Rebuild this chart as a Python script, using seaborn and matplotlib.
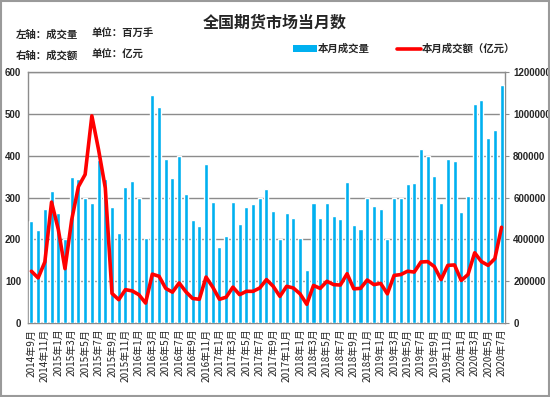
import numpy as np
import pandas as pd
import matplotlib
matplotlib.use("Agg")
import matplotlib.pyplot as plt
import seaborn as sns
from matplotlib.patches import Patch, Rectangle
from matplotlib.lines import Line2D

# monthly data, 2014-09 .. 2020-07
months = [p.strftime("%Y") + "年" + str(p.month) + "月"
          for p in pd.period_range("2014-09", "2020-07", freq="M")]

# volume, million lots (left axis)
volume = [243, 223, 273, 316, 263, 200, 350, 344, 300, 286, 390, 344,
          277, 215, 325, 339, 300, 204, 545, 515, 391, 346, 400, 308,
          247, 231, 380, 289, 183, 208, 290, 237, 277, 285, 298, 320,
          267, 200, 262, 252, 204, 126, 286, 251, 287, 255, 249, 337,
          234, 225, 299, 279, 273, 200, 299, 299, 333, 335, 417, 400,
          351, 288, 391, 387, 265, 304, 523, 534, 442, 460, 568]

# turnover, 100 million yuan (right axis)
turnover = [248000, 216000, 292000, 578000, 448000, 260000, 494000, 652000,
            710000, 990000, 828000, 646000, 142000, 112000, 160000, 154000,
            136000, 96000, 234000, 224000, 166000, 148000, 192000, 150000,
            118000, 114000, 220000, 172000, 114000, 124000, 172000, 136000,
            152000, 152000, 168000, 208000, 176000, 128000, 176000, 168000,
            140000, 90000, 180000, 166000, 200000, 184000, 182000, 236000,
            164000, 166000, 206000, 184000, 190000, 140000, 228000, 232000,
            248000, 244000, 292000, 294000, 270000, 208000, 276000, 278000,
            204000, 232000, 336000, 294000, 276000, 308000, 458000]

left_ticks = [0, 100, 200, 300, 400, 500, 600]
right_ticks = [0, 200000, 400000, 600000, 800000, 1000000, 1200000]

BLUE = "#00B0F0"
RED = "#FF0000"
GRID = "#8c8c8c"

sns.set_style("white")
plt.rcParams["font.family"] = ["Noto Sans CJK SC", "DejaVu Sans"]

fig = plt.figure(figsize=(5.5, 3.97), dpi=100)
ax = fig.add_axes([0.051, 0.186, 0.867, 0.633])

sns.barplot(x=months, y=volume, color=BLUE, saturation=1, width=0.6, ax=ax, zorder=3)
ax.set_xlim(-0.5, len(months) - 0.5)
ax.set_ylim(0, 600)
ax.set_yticks(left_ticks)
ax.set_yticklabels([str(t) for t in left_ticks], fontsize=7, fontweight="bold",
                   family=["Liberation Sans", "DejaVu Sans"])
ax.set_xticks(range(0, len(months), 2))
ax.set_xticklabels(months[::2], rotation=90, fontsize=7.2)
ax.tick_params(axis="y", length=0, pad=5)
ax.tick_params(axis="x", length=0, pad=4)
ax.yaxis.grid(True, color=GRID, lw=1, zorder=0)
ax.set_axisbelow(True)
ax.set_xlabel("")
ax.set_ylabel("")
for s in ["left", "right", "top", "bottom"]:
    ax.spines[s].set_color(GRID)
    ax.spines[s].set_linewidth(1)

ax2 = ax.twinx()
sns.lineplot(x=np.arange(len(months)), y=turnover, color=RED, lw=2.6, ax=ax2)
ax2.set_ylim(0, 1200000)
ax2.set_yticks(right_ticks)
ax2.set_yticklabels([str(t) for t in right_ticks], fontsize=7, fontweight="bold",
                    family=["Liberation Sans", "DejaVu Sans"])
ax2.tick_params(axis="y", length=3, color=GRID, pad=3)
ax2.set_xlabel("")
ax2.set_ylabel("")
for s in ["left", "right", "top", "bottom"]:
    ax2.spines[s].set_visible(False)

fig.text(0.5, 0.942, "全国期货市场当月数", ha="center", va="center",
         fontsize=11.5, fontweight="bold")
fig.text(0.029, 0.914, "左轴：成交量", ha="left", va="center", fontsize=7.5, fontweight="bold")
fig.text(0.167, 0.914, "单位：百万手", ha="left", va="center", fontsize=7.5, fontweight="bold")
fig.text(0.029, 0.861, "右轴：成交额", ha="left", va="center", fontsize=7.5, fontweight="bold")
fig.text(0.167, 0.861, "单位：亿元", ha="left", va="center", fontsize=7.5, fontweight="bold")

handles = [Patch(facecolor=BLUE, edgecolor="none"),
           Line2D([0], [0], color=RED, lw=2.6)]
fig.legend(handles, ["本月成交量", "本月成交额（亿元）"], loc="center",
           bbox_to_anchor=(0.735, 0.877), ncol=2, frameon=False,
           prop={"size": 7.5, "weight": "bold"},
           handlelength=2.3, handleheight=0.6, handletextpad=0.1, columnspacing=2.6)

fig.add_artist(Rectangle((0.002, 0.002), 0.996, 0.996, transform=fig.transFigure,
                         fill=False, ec="#9a9a9a", lw=1.5))

fig.savefig("out.png", dpi=100)
